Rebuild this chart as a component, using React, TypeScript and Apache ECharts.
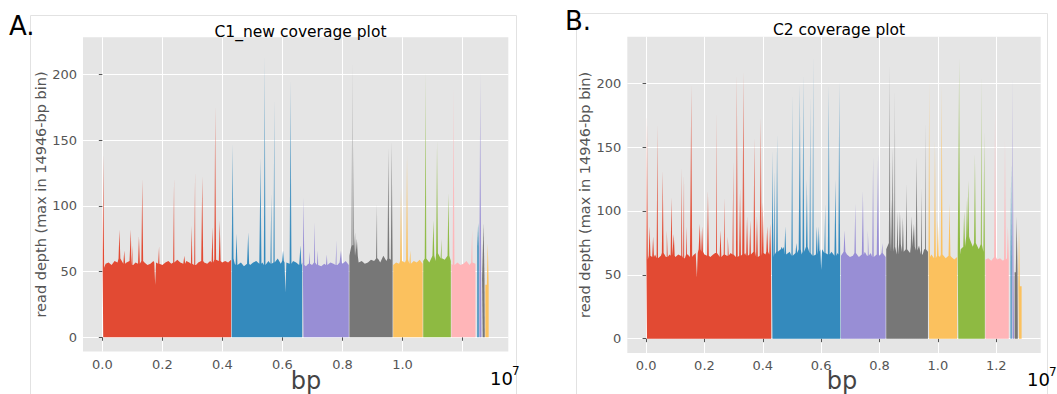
import React, { useEffect, useRef } from "react";
import * as echarts from "echarts";

// ggplot colour cycle used for the chromosomes
const COLORS = ["#E24A33", "#348ABD", "#988ED5", "#777777", "#FBC15E", "#8EBA42", "#FFB5B8"];

// x positions are in units of 1e7 bp
const xTicks = [0, 0.2, 0.4, 0.6, 0.8, 1.0, 1.2];
const c1XLabels = [0, 0.2, 0.4, 0.6, 0.8, 1.0];
const c2XLabels = [0, 0.2, 0.4, 0.6, 0.8, 1.0, 1.2];
const yTicks = [0, 50, 100, 150, 200];

// ---------- C1_new ----------
const c1Bounds = [0, 0.43, 0.667, 0.822, 0.968, 1.068, 1.162, 1.244, 1.248, 1.255, 1.264, 1.275, 1.288];
const c1Base = [
  [53, 56, 57, 55, 58, 57, 60, 56, 57, 58, 55, 57, 56, 58, 57, 55, 56, 58, 57, 56, 55, 57, 58, 56, 57, 59, 57, 56, 58, 57, 56, 55, 57, 58, 57, 56, 58, 57, 59, 58, 57, 58, 57, 59],
  [60, 56, 55, 57, 54, 56, 55, 57, 58, 56, 57, 55, 58, 56, 57, 60, 56, 58, 57, 56, 58, 57, 55, 57],
  [55, 54, 56, 55, 57, 55, 54, 56, 55, 57, 56, 55, 57, 56, 58, 55],
  [62, 70, 62, 57, 58, 56, 57, 59, 58, 60, 57, 62, 58, 60, 59],
  [55, 57, 56, 58, 57, 59, 56, 58, 57, 59, 56],
  [58, 60, 57, 62, 58, 64, 60, 59, 62, 58],
  [56, 55, 57, 55, 56, 58, 55, 57, 56],
  [64, 64],
  [69, 69],
  [50, 50],
  [45, 45],
  [40, 40],
];
const c1Spikes = [
  [0.003, 140], [0.057, 82], [0.073, 66], [0.095, 82], [0.1, 70], [0.122, 77], [0.133, 121], [0.176, 40], [0.189, 69],
  [0.239, 122], [0.273, 62], [0.298, 85], [0.309, 127], [0.333, 123], [0.367, 84], [0.376, 177], [0.391, 89],
  [0.434, 148], [0.447, 79], [0.486, 80], [0.527, 137], [0.541, 216], [0.563, 110], [0.573, 183], [0.602, 66],
  [0.61, 34], [0.627, 197], [0.66, 70],
  [0.67, 107], [0.689, 65], [0.708, 88], [0.718, 66], [0.748, 63], [0.78, 74], [0.795, 66],
  [0.833, 212], [0.837, 148], [0.842, 80], [0.848, 75], [0.915, 102], [0.953, 145], [0.964, 150],
  [0.995, 115], [1.015, 139], [1.026, 66],
  [1.077, 204], [1.103, 89], [1.115, 150], [1.13, 75], [1.153, 110],
  [1.17, 191], [1.232, 82],
  [1.252, 87], [1.259, 203], [1.27, 87], [1.284, 72],
];

// ---------- C2 ----------
const c2Bounds = [0, 0.43, 0.667, 0.822, 0.967, 1.067, 1.162, 1.244, 1.248, 1.254, 1.262, 1.275, 1.288];
const c2Base = [
  [62, 65, 64, 66, 63, 65, 67, 64, 66, 65, 64, 66, 65, 63, 66, 64, 65, 67, 70, 68, 66, 65, 64, 66, 67, 65, 64, 66, 65, 67, 66, 64, 65, 66, 67, 65, 66, 68, 64, 65, 67, 66, 68, 66],
  [64, 66, 68, 70, 72, 66, 68, 65, 67, 70, 66, 68, 72, 67, 65, 66, 68, 70, 67, 66, 68, 65, 67, 66],
  [65, 68, 66, 64, 65, 67, 64, 66, 68, 65, 67, 64, 66, 65, 67, 64],
  [70, 75, 68, 72, 66, 74, 68, 70, 67, 72, 69, 73, 66, 70, 68],
  [64, 66, 63, 65, 64, 66, 63, 65, 64, 62, 64],
  [66, 70, 72, 80, 78, 72, 75, 70, 74, 68],
  [62, 63, 61, 64, 62, 63, 61, 62, 63],
  [77, 77],
  [60, 60],
  [58, 58],
  [52, 52],
  [41, 41],
];
const c2Spikes = [
  [0.003, 176], [0.012, 88], [0.024, 80], [0.039, 169], [0.057, 132], [0.071, 85], [0.087, 111], [0.095, 82],
  [0.121, 135], [0.13, 131], [0.14, 88], [0.155, 200], [0.174, 48], [0.184, 90], [0.192, 88], [0.212, 116],
  [0.24, 179], [0.255, 85], [0.269, 111], [0.28, 80], [0.299, 140], [0.311, 208], [0.322, 118], [0.334, 210],
  [0.346, 96], [0.357, 93], [0.371, 158], [0.38, 96], [0.393, 174], [0.4, 107], [0.415, 88], [0.425, 90],
  [0.433, 148], [0.44, 132], [0.449, 161], [0.465, 72], [0.477, 88], [0.501, 193], [0.515, 75], [0.527, 200],
  [0.539, 208], [0.551, 125], [0.563, 192], [0.573, 224], [0.585, 88], [0.592, 88], [0.6, 54], [0.614, 106],
  [0.626, 200], [0.649, 125], [0.662, 203],
  [0.68, 85], [0.717, 106], [0.743, 116], [0.76, 85], [0.778, 143], [0.795, 145], [0.81, 75],
  [0.835, 216], [0.84, 110], [0.845, 150], [0.853, 197], [0.862, 100], [0.87, 100], [0.88, 95], [0.893, 122],
  [0.91, 96], [0.918, 90], [0.927, 143], [0.945, 119], [0.956, 171],
  [0.97, 203], [0.99, 156], [1.0, 93], [1.013, 200], [1.04, 106],
  [1.073, 221], [1.09, 100], [1.1, 111], [1.104, 124], [1.127, 145], [1.15, 208], [1.159, 163],
  [1.196, 184], [1.23, 158], [1.24, 88],
  [1.251, 137], [1.256, 207], [1.27, 96], [1.278, 88],
];

const GAP = 0.001;
const HALF = 0.003;

function hexA(hex: string, a: number) {
  const r = parseInt(hex.slice(1, 3), 16);
  const g = parseInt(hex.slice(3, 5), 16);
  const b = parseInt(hex.slice(5, 7), 16);
  return `rgba(${r},${g},${b},${a})`;
}

// fadeTop / fadeBottom: pixel rows over which the spike tips fade (style only)
function buildSeries(bounds: number[], bases: number[][], spikes: number[][], gi: number, fadeTop: number, fadeBottom: number) {
  const out: any[] = [];
  for (let c = 0; c < bounds.length - 1; c++) {
    const s = bounds[c] + GAP;
    const e = bounds[c + 1] - GAP;
    const base = bases[c];
    const n = base.length;
    const pts: number[][] = base.map((v, i) => [s + ((e - s) * i) / (n - 1), v]);
    spikes
      .filter(([x]) => x >= bounds[c] && x < bounds[c + 1])
      .forEach(([x, h]) => {
        const idx = Math.min(n - 1, Math.max(0, Math.round(((x - s) / (e - s)) * (n - 1))));
        const b = base[idx];
        const px = Math.min(e, Math.max(s, x));
        pts.push([Math.max(s, px - HALF), b], [px, h], [Math.min(e, px + HALF), b]);
      });
    pts.sort((a, b) => a[0] - b[0]);
    const col = COLORS[c % COLORS.length];
    out.push({
      type: "line",
      xAxisIndex: gi,
      yAxisIndex: gi,
      data: pts,
      showSymbol: false,
      symbol: "none",
      silent: true,
      z: 3,
      lineStyle: { width: 0 },
      areaStyle: {
        origin: "auto",
        opacity: 1,
        color: new echarts.graphic.LinearGradient(
          0, fadeTop, 0, fadeBottom,
          [
            { offset: 0, color: hexA(col, 0.4) },
            { offset: 1, color: hexA(col, 1) },
          ],
          true
        ),
      },
      color: col,
    });
  }
  return out;
}

const FONT = "DejaVu Sans";

function axes(gi: number, xMin: number, xMax: number, yMin: number, yMax: number, xLabels: number[]) {
  const x = {
    type: "value",
    gridIndex: gi,
    min: xMin,
    max: xMax,
    axisLine: { show: false },
    axisTick: { show: true, customValues: xTicks, length: 3.5, lineStyle: { color: "#555" } },
    axisLabel: {
      customValues: xLabels,
      formatter: (v: number) => v.toFixed(1),
      color: "#555",
      fontSize: 13,
      fontFamily: FONT,
      margin: 6,
    },
    splitLine: { show: true, lineStyle: { color: "#fff", width: 1 } },
  };
  const y = {
    type: "value",
    gridIndex: gi,
    min: yMin,
    max: yMax,
    axisLine: { show: false },
    axisTick: { show: true, customValues: yTicks, length: 3.5, lineStyle: { color: "#555" } },
    axisLabel: {
      customValues: yTicks,
      color: "#555",
      fontSize: 13,
      fontFamily: FONT,
      margin: 6,
    },
    splitLine: { show: true, lineStyle: { color: "#fff", width: 1 } },
    name: "read depth (max in 14946-bp bin)",
    nameLocation: "middle",
    nameRotate: 90,
    nameGap: 32,
    nameTextStyle: { color: "#555", fontSize: 14.5, fontFamily: FONT },
  };
  return { x, y };
}

export default function App() {
  const ref = useRef<HTMLDivElement>(null);
  useEffect(() => {
    if (!ref.current) return;
    const chart = echarts.init(ref.current, null, { renderer: "svg" });
    const a = axes(0, -0.0644, 1.3524, -10.9, 228.3, c1XLabels);
    const b = axes(1, -0.0644, 1.3524, -11.3, 236.5, c2XLabels);
    const option: any = {
      animation: false,
      backgroundColor: "#fff",
      grid: [
        { left: 83, top: 37.3, width: 425.3, height: 314.3, show: true, backgroundColor: "#E5E5E5", borderWidth: 0 },
        { left: 627.3, top: 36.7, width: 413.4, height: 316.4, show: true, backgroundColor: "#E5E5E5", borderWidth: 0 },
      ],
      xAxis: [a.x, b.x],
      yAxis: [a.y, b.y],
      title: [
        { text: "C1_new coverage plot", left: 295.5, top: 19, textAlign: "center", textStyle: { fontFamily: FONT, fontSize: 15.5, fontWeight: "normal", color: "#000" } },
        { text: "C2 coverage plot", left: 834, top: 17, textAlign: "center", textStyle: { fontFamily: FONT, fontSize: 15.5, fontWeight: "normal", color: "#000" } },
      ],
      graphic: [
        { type: "rect", z: -10, shape: { x: 30.5, y: 15.5, width: 486, height: 400 }, style: { fill: "none", stroke: "#e2e2e2", lineWidth: 1 } },
        { type: "rect", z: -10, shape: { x: 576.5, y: 13.5, width: 471, height: 400 }, style: { fill: "none", stroke: "#e2e2e2", lineWidth: 1 } },
        { type: "text", x: 9, y: 26, style: { text: "A.", font: `26px '${FONT}'`, fill: "#000", verticalAlign: "middle" } },
        { type: "text", x: 565, y: 21, style: { text: "B.", font: `26px '${FONT}'`, fill: "#000", verticalAlign: "middle" } },
        { type: "text", x: 306, y: 381, style: { text: "bp", font: `24px '${FONT}'`, fill: "#444", align: "center", verticalAlign: "middle" } },
        { type: "text", x: 842, y: 381, style: { text: "bp", font: `24px '${FONT}'`, fill: "#444", align: "center", verticalAlign: "middle" } },
        { type: "text", x: 490, y: 378, style: { text: "10", font: `18px '${FONT}'`, fill: "#000", verticalAlign: "middle" } },
        { type: "text", x: 512, y: 371, style: { text: "7", font: `12px '${FONT}'`, fill: "#000", verticalAlign: "middle" } },
        { type: "text", x: 1027, y: 379, style: { text: "10", font: `18px '${FONT}'`, fill: "#000", verticalAlign: "middle" } },
        { type: "text", x: 1049, y: 372, style: { text: "7", font: `12px '${FONT}'`, fill: "#000", verticalAlign: "middle" } },
      ],
      series: [
        ...buildSeries(c1Bounds, c1Base, c1Spikes, 0, 40, 250),
        ...buildSeries(c2Bounds, c2Base, c2Spikes, 1, 40, 245),
      ],
    };
    chart.setOption(option);
    return () => chart.dispose();
  }, []);
  return <div ref={ref} style={{ position: "fixed", left: 0, top: 0, width: 1057, height: 394, background: "#fff" }} />;
}
